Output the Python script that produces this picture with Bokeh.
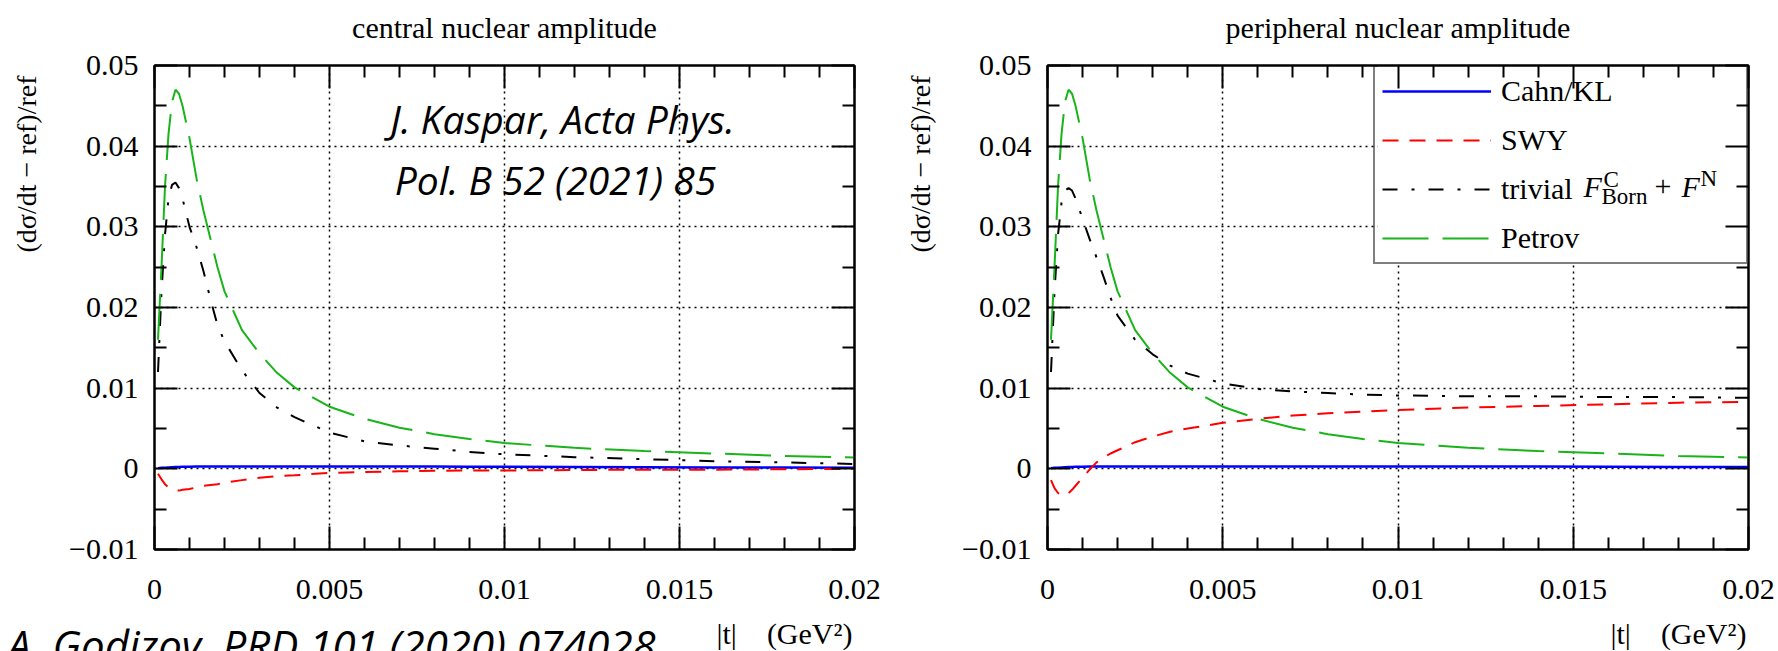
import math
from bokeh.plotting import figure
from bokeh.models import (Range1d, LinearAxis, FixedTicker, Label, Legend, LegendItem,
                          ColumnDataSource, Title, BoxAnnotation)
from bokeh.layouts import row
from bokeh.embed import file_html
from bokeh.resources import INLINE

# ---------------- data ----------------
t = [0.0001, 0.0002, 0.0003, 0.0004, 0.0005, 0.0006, 0.0007, 0.0008, 0.001, 0.0012,
     0.0014, 0.0016, 0.0018, 0.002, 0.0025, 0.003, 0.0035, 0.004, 0.005, 0.006,
     0.007, 0.008, 0.009, 0.01, 0.012, 0.014, 0.016, 0.018, 0.02]

cahn_central = [0.00008, 0.00012, 0.00015, 0.00018, 0.0002, 0.00022, 0.00024, 0.00025, 0.00027, 0.00028,
                0.00029, 0.0003, 0.0003, 0.0003, 0.0003, 0.0003, 0.0003, 0.0003, 0.0003, 0.0003,
                0.00029, 0.00028, 0.00027, 0.00026, 0.00024, 0.00021, 0.00018, 0.00015, 0.00012]
swy_central = [-0.0006, -0.0013, -0.0019, -0.0023, -0.0025, -0.0026, -0.0027, -0.0026, -0.0025, -0.0023,
               -0.0021, -0.002, -0.0019, -0.0017, -0.0014, -0.0011, -0.0009, -0.0008, -0.0005, -0.0004,
               -0.0003, -0.00025, -0.0002, -0.0002, -0.00015, -0.0001, -0.0001, -0.00005, 0.0]
trivial_central = [0.012, 0.022, 0.029, 0.0335, 0.0352, 0.0355, 0.0348, 0.0335, 0.030, 0.0275,
                   0.0245, 0.021, 0.0178, 0.0158, 0.0122, 0.0094, 0.0076, 0.0064, 0.0045, 0.0034,
                   0.0029, 0.0025, 0.0021, 0.0018, 0.00145, 0.0012, 0.00095, 0.0008, 0.0006]
petrov_central = [0.016, 0.025, 0.035, 0.0415, 0.0455, 0.047, 0.0465, 0.045, 0.041, 0.036,
                  0.032, 0.0285, 0.025, 0.022, 0.0172, 0.0143, 0.0119, 0.0101, 0.0077, 0.0062,
                  0.0051, 0.0043, 0.0037, 0.0032, 0.0026, 0.0022, 0.0019, 0.0016, 0.0014]

cahn_peripheral = [0.00008, 0.00012, 0.00015, 0.00018, 0.0002, 0.00022, 0.00024, 0.00025, 0.00027, 0.00028,
                   0.00029, 0.0003, 0.0003, 0.0003, 0.0003, 0.0003, 0.0003, 0.0003, 0.0003, 0.0003,
                   0.0003, 0.0003, 0.0003, 0.0003, 0.00029, 0.00028, 0.00026, 0.00024, 0.00022]
swy_peripheral = [-0.0014, -0.0024, -0.003, -0.0033, -0.0033, -0.003, -0.0026, -0.0021, -0.0011, -0.0001,
                  0.0008, 0.0014, 0.0019, 0.0023, 0.0033, 0.004, 0.0046, 0.005, 0.0057, 0.0062,
                  0.0066, 0.0069, 0.0071, 0.0073, 0.0076, 0.0078, 0.008, 0.0082, 0.0083]
trivial_peripheral = [0.012, 0.022, 0.029, 0.033, 0.0345, 0.0348, 0.0345, 0.0335, 0.031, 0.0285,
                      0.0262, 0.0238, 0.0212, 0.019, 0.016, 0.0142, 0.0128, 0.0118, 0.0106, 0.0099,
                      0.0096, 0.0094, 0.0092, 0.0091, 0.009, 0.009, 0.0089, 0.0089, 0.0088]
petrov_peripheral = [0.016, 0.025, 0.035, 0.0415, 0.0455, 0.047, 0.0465, 0.045, 0.041, 0.036,
                     0.032, 0.0285, 0.025, 0.022, 0.0172, 0.0143, 0.0119, 0.0101, 0.0077, 0.0062,
                     0.0051, 0.0043, 0.0037, 0.0032, 0.0026, 0.0022, 0.0019, 0.0016, 0.0014]

series_names = ["Cahn/KL", "SWY", "trivial", "Petrov"]
panel_titles = ["central nuclear amplitude", "peripheral nuclear amplitude"]
y_axis_title = "(d\u03c3/dt \u2212 ref)/ref"
x_axis_title = "|t|\u00a0\u00a0\u00a0\u00a0(GeV\u00b2)"
citation_1 = ["J. Kaspar, Acta Phys.", "Pol. B 52 (2021) 85"]
citation_2 = "A. Godizov, PRD 101 (2020) 074028"

x_ticks = [0, 0.005, 0.01, 0.015, 0.02]
x_tick_labels = ["0", "0.005", "0.01", "0.015", "0.02"]
x_minor_ticks = [0.001, 0.002, 0.003, 0.004, 0.006, 0.007, 0.008, 0.009, 0.011, 0.012,
                 0.013, 0.014, 0.016, 0.017, 0.018, 0.019]
y_ticks = [-0.01, 0, 0.01, 0.02, 0.03, 0.04, 0.05]
y_tick_labels = ["\u22120.01", "0", "0.01", "0.02", "0.03", "0.04", "0.05"]
y_minor_ticks = [-0.005, 0.005, 0.015, 0.025, 0.035, 0.045]

# ---------------- styling ----------------
SERIF = "Liberation Serif"
SANS = "Open Sans"
COLORS = ["#0000ff", "#ff0000", "#000000", "#19b419"]
DASHES = ["solid", "16 11", "15 14 3 14", "46 14"]
W_FIG, H_FIG = 889, 651
X0, X1, Y0, Y1 = 0.0, 0.02, -0.01, 0.05
NB = "\u00a0"


def make_panel(idx, data, fl, fw, ft, fh, ylab_standoff):
    fr = W_FIG - fl - fw
    fb = H_FIG - ft - fh
    p = figure(width=W_FIG, height=H_FIG, x_range=Range1d(X0, X1), y_range=Range1d(Y0, Y1),
               output_backend="svg", toolbar_location=None, title=None,
               min_border_left=fl, min_border_right=fr, min_border_top=ft, min_border_bottom=fb)
    p.outline_line_color = "black"
    p.outline_line_width = 2
    p.background_fill_color = "white"
    p.border_fill_color = "white"

    def px2x(px):
        return X0 + (px - fl) / fw * (X1 - X0)

    def py2y(py):
        return Y1 - (py - ft) / fh * (Y1 - Y0)

    xt = FixedTicker(ticks=x_ticks, minor_ticks=x_minor_ticks)
    yt = FixedTicker(ticks=y_ticks, minor_ticks=y_minor_ticks)

    def style(ax):
        ax.axis_line_width = 2
        ax.major_tick_line_width = 2
        ax.minor_tick_line_width = 2
        ax.major_tick_in = 23
        ax.major_tick_out = 0
        ax.minor_tick_in = 12
        ax.minor_tick_out = 0
        ax.major_label_text_font = SERIF
        ax.major_label_text_font_size = "30px"
        ax.major_label_text_color = "black"

    xa = p.xaxis[0]
    xa.ticker = xt
    style(xa)
    xa.major_label_overrides = {k: v for k, v in zip(x_ticks, x_tick_labels)}
    xa.major_label_standoff = 30
    # blank axis label used only as vertical room below the tick labels
    xa.axis_label = NB
    xa.axis_label_text_font_size = "1px"
    xa.axis_label_standoff = 20

    ya = p.yaxis[0]
    ya.ticker = yt
    style(ya)
    ya.major_label_overrides = {k: v for k, v in zip(y_ticks, y_tick_labels)}
    ya.major_label_standoff = 16
    # leading no-break spaces push the visible title toward the top end of the axis
    ya.axis_label = NB * 41 + y_axis_title
    ya.axis_label_text_font = SERIF
    ya.axis_label_text_font_size = "28px"
    ya.axis_label_text_font_style = "normal"
    ya.axis_label_text_color = "black"
    ya.axis_label_standoff = ylab_standoff

    top = LinearAxis(ticker=FixedTicker(ticks=x_ticks, minor_ticks=x_minor_ticks))
    style(top)
    top.major_label_overrides = {k: "" for k in x_ticks}
    top.major_label_text_font_size = "2px"
    top.major_label_standoff = 0
    # blank axis label used only as room between the frame and the panel title
    top.axis_label = NB
    top.axis_label_text_font_size = "1px"
    top.axis_label_standoff = 22
    p.add_layout(top, "above")
    right = LinearAxis(ticker=FixedTicker(ticks=y_ticks, minor_ticks=y_minor_ticks))
    style(right)
    right.major_label_overrides = {k: "" for k in y_ticks}
    right.major_label_text_font_size = "2px"
    right.major_label_standoff = 0
    p.add_layout(right, "right")

    p.xgrid.ticker = xt
    p.ygrid.ticker = yt
    for g in (p.xgrid[0], p.ygrid[0]):
        g.grid_line_color = "black"
        g.grid_line_dash = "2 4"
        g.grid_line_width = 1.5

    src = ColumnDataSource(dict(t=t, cahn=data[0], swy=data[1], triv=data[2], pet=data[3]))
    renderers = []
    for col, c, d, w in zip(["cahn", "swy", "triv", "pet"], COLORS, DASHES, [2.5, 2, 2, 2]):
        r = p.line("t", col, source=src, line_color=c, line_dash=d, line_width=w)
        renderers.append(r)

    # panel title (above) and x-axis title (below)
    p.add_layout(Title(text=panel_titles[idx], align="center", vertical_align="bottom", standoff=-8,
                       text_font=SERIF, text_font_size="30px", text_font_style="normal",
                       text_color="black"), "above")
    p.add_layout(Title(text=x_axis_title, align="right", vertical_align="top", standoff=-17,
                       offset=2, text_font=SERIF, text_font_size="30px", text_font_style="normal",
                       text_color="black"), "below")
    return p, renderers, px2x, py2y


p1, r1, px1, py1 = make_panel(0, [cahn_central, swy_central, trivial_central, petrov_central],
                              154, 700, 64, 486, 24)
p2, r2, px2, py2 = make_panel(1, [cahn_peripheral, swy_peripheral, trivial_peripheral, petrov_peripheral],
                              158, 701, 65, 484, 23)

# citation annotations (left panel)
for line, cx, cy in zip(citation_1, [562, 555], [117, 178]):
    p1.add_layout(Label(x=px1(cx), y=py1(cy), text=line, text_align="center",
                        text_baseline="middle", text_font=SANS, text_font_style="italic",
                        text_font_size="39px", text_color="black"))
p1.add_layout(Title(text=citation_2, align="left", vertical_align="top", standoff=-56, offset=-147,
                    text_font=SANS, text_font_style="italic", text_font_size="42px",
                    text_color="black"), "below")

# legend (right panel): white box behind, transparent legend on top
p2.add_layout(BoxAnnotation(left=px2(488), right=px2(859), top=py2(65), bottom=py2(263),
                            fill_color="white", fill_alpha=1.0, line_color=None, level="underlay"))
legend = Legend(items=[LegendItem(label=n, renderers=[r]) for n, r in zip(series_names, r2)],
                location="top_right", margin=0, padding=7, spacing=15,
                glyph_width=109, glyph_height=30, label_height=30, label_width=238,
                label_standoff=10, label_text_font=SERIF, label_text_font_size="30px",
                label_text_baseline="middle", label_text_color="black",
                border_line_color="black", border_line_width=2,
                background_fill_color="white", background_fill_alpha=0.0)
p2.add_layout(legend)

row_c = 186
for txt, xpx, dy, size, style_ in [("F", 694, 0, "30px", "italic"), ("C", 714, -7, "23px", "normal"),
                                   ("Born", 712, 10, "23px", "normal"), ("+", 765, 0, "30px", "normal"),
                                   ("F", 792, 0, "30px", "italic"), ("N", 811, -8, "23px", "normal")]:
    p2.add_layout(Label(x=px2(xpx), y=py2(row_c + dy), text=txt, text_align="left",
                        text_baseline="middle", text_font=SERIF, text_font_style=style_,
                        text_font_size=size, text_color="black"))

layout = row(p1, p2)
open("out.html", "w").write(file_html(layout, INLINE))
